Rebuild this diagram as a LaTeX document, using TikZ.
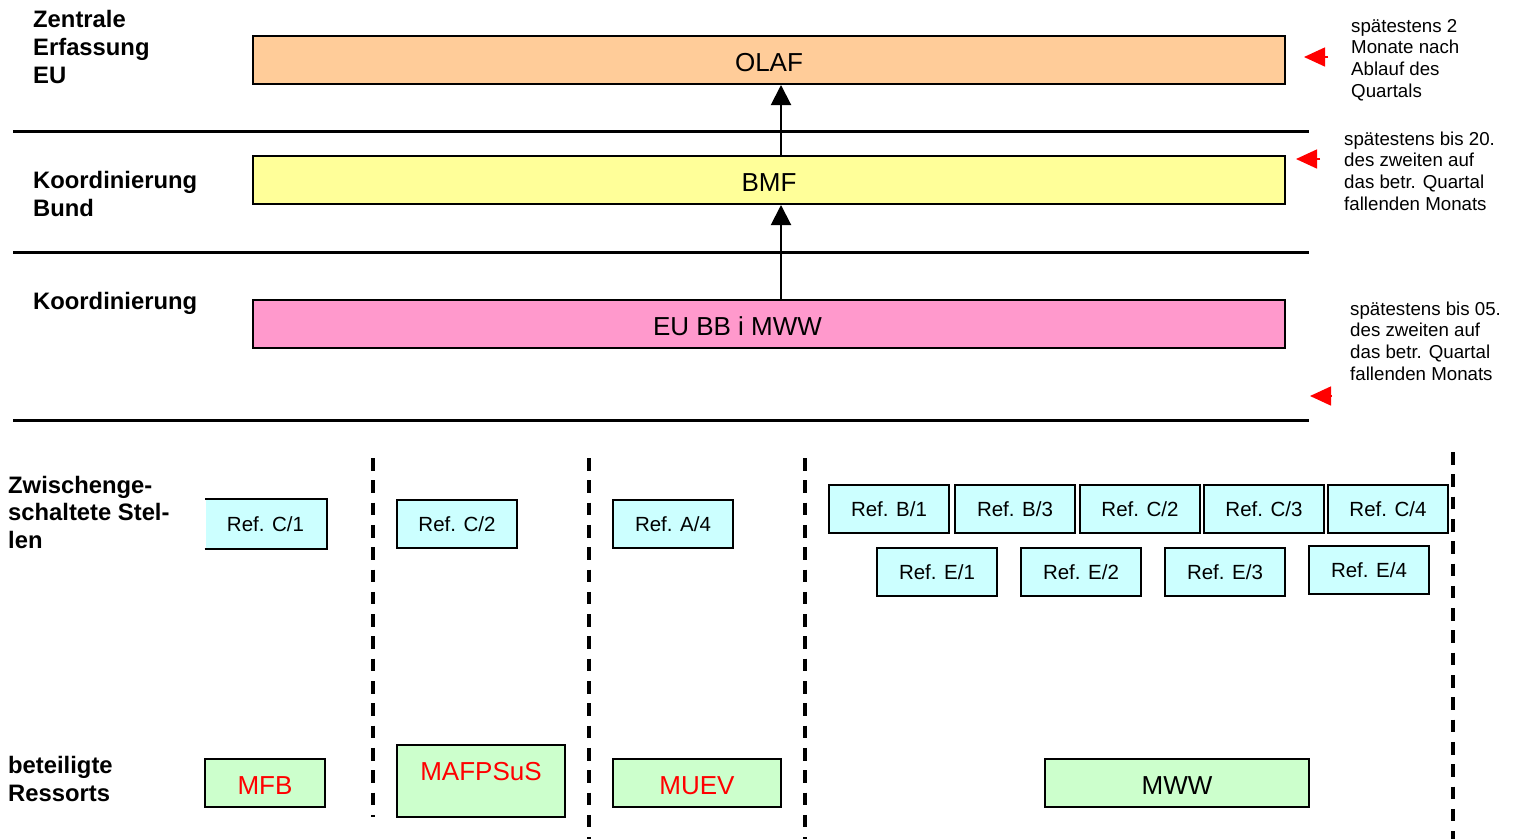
\documentclass[tikz,border=0pt]{standalone}
\usepackage{fontspec}
\setmainfont{Liberation Sans}
\usetikzlibrary{arrows.meta}
\definecolor{peach}{RGB}{255,204,153}
\definecolor{lyellow}{RGB}{255,255,153}
\definecolor{lpink}{RGB}{255,153,204}
\definecolor{lcyan}{RGB}{204,255,255}
\definecolor{lgreen}{RGB}{204,255,204}
\definecolor{pred}{RGB}{255,0,0}
\tikzset{
  bigbox/.style={draw=black, line width=2pt, minimum width=1032pt, minimum height=48pt, inner sep=0pt,
    font=\fontsize{26}{30}\selectfont, text height=22.6pt, text depth=0pt},
  refbox/.style={fill=lcyan, draw=black, line width=2pt, minimum width=120pt, minimum height=48pt, inner sep=0pt,
    font=\fontsize{20.5}{24}\selectfont, text height=14.7pt, text depth=0pt},
  resbox/.style={fill=lgreen, draw=black, line width=2pt, minimum height=48pt, inner sep=0pt,
    font=\fontsize{26}{30}\selectfont, text height=22.6pt, text depth=0pt},
  lbl/.style={font=\bfseries\fontsize{23.8}{28}\selectfont, align=left, anchor=base west, inner sep=0pt},
  note/.style={font=\fontsize{18.7}{21.7}\selectfont, align=left, anchor=base west, inner sep=0pt},
  hline/.style={line width=3pt},
  vdash/.style={line width=3.3pt, dash pattern=on 12.6pt off 9.7pt},
  uparr/.style={line width=2pt, -{Triangle[width=20pt,length=20pt]}},
  redarr/.style={draw=pred, line width=1.5pt, -{Triangle[width=19pt,length=21pt]}, color=pred},
}
\begin{document}
\begin{tikzpicture}[x=1pt,y=-1pt]
\useasboundingbox (0,0) rectangle (1516,839);

% left labels (anchored at the baseline of their last line)
\node[lbl] (l1) at (33,83.5) {Zentrale\\Erfassung\\EU};
\node[lbl] (l2) at (33,216.5) {Koordinierung\\Bund};
\node[lbl] (l3) at (33,309) {Koordinierung};
\node[lbl, font=\bfseries\fontsize{23.8}{27.5}\selectfont] (l4) at (8,548) {Zwischenge-\\schaltete Stel-\\len};
\node[lbl] (l5) at (8,801) {beteiligte\\Ressorts};

% horizontal separators
\coordinate (h1a) at (13,131); \coordinate (h1b) at (1309,131);
\coordinate (h2a) at (13,252); \coordinate (h2b) at (1309,252);
\coordinate (h3a) at (13,420); \coordinate (h3b) at (1309,420);
\draw[hline] (h1a) -- (h1b);
\draw[hline] (h2a) -- (h2b);
\draw[hline] (h3a) -- (h3b);

% main boxes
\node[bigbox, fill=peach] (olaf) at (769,60) {OLAF};
\node[bigbox, fill=lyellow] (bmf) at (769,180) {BMF};
\node[bigbox, fill=lpink] (eubb) at (769,324) {EU BB i MWW\hspace*{63pt}};

\draw[uparr] ([xshift=12pt]bmf.north) -- ([xshift=12pt]olaf.south);
\draw[uparr] ([xshift=12pt]eubb.north) -- ([xshift=12pt]bmf.south);

% red markers
\coordinate (r1s) at (1328,57); \coordinate (r1t) at (1304,57);
\coordinate (r2s) at (1320,159); \coordinate (r2t) at (1296,159);
\coordinate (r3s) at (1331,396); \coordinate (r3t) at (1310,396);
\draw[redarr] (r1s) -- (r1t);
\draw[redarr] (r2s) -- (r2t);
\draw[redarr] (r3s) -- (r3t);

% notes (anchored at the baseline of their last line)
\node[note] (n1) at (1351,97.1) {spätestens 2\\Monate nach\\Ablauf des\\Quartals};
\node[note] (n2) at (1344,210.1) {spätestens bis 20.\\des zweiten auf\\das betr. Quartal\\fallenden Monats};
\node[note] (n3) at (1350,380.1) {spätestens bis 05.\\des zweiten auf\\das betr. Quartal\\fallenden Monats};

% dashed column separators
\coordinate (d1a) at (373,458); \coordinate (d1b) at (373,817);
\coordinate (d2a) at (589,458); \coordinate (d2b) at (589,839);
\coordinate (d3a) at (805,458); \coordinate (d3b) at (805,839);
\coordinate (d4a) at (1453,452); \coordinate (d4b) at (1453,839);
\draw[vdash] (d1a) -- (d1b);
\draw[vdash] (d2a) -- (d2b);
\draw[vdash] (d3a) -- (d3b);
\draw[vdash] (d4a) -- (d4b);

% Ref boxes
\node[refbox, draw=none] (rc1) at (265.5,524) {Ref. C/1};
\draw[line width=2pt] (rc1.south west) -- (rc1.south east) -- (rc1.north east) -- (rc1.north west);
\node[refbox] (rc2a) at (457,524) {Ref. C/2};
\node[refbox] (ra4) at (673,524) {Ref. A/4};
\node[refbox] (rb1) at (889,509) {Ref. B/1};
\node[refbox] (rb3) at (1015,509) {Ref. B/3};
\node[refbox] (rc2b) at (1140,509) {Ref. C/2};
\node[refbox] (rc3) at (1264,509) {Ref. C/3};
\node[refbox] (rc4) at (1388,509) {Ref. C/4};
\node[refbox] (re1) at (937,572) {Ref. E/1};
\node[refbox] (re2) at (1081,572) {Ref. E/2};
\node[refbox] (re3) at (1225,572) {Ref. E/3};
\node[refbox] (re4) at (1369,570) {Ref. E/4};

% Ressorts
\node[resbox, minimum width=120pt, text=pred] (mfb) at (265,783) {MFB};
\node[resbox, minimum width=168pt, minimum height=72pt, text height=35pt, text depth=37pt, text=pred] (mafp) at (481,781) {MAFPSuS};
\node[resbox, minimum width=168pt, text=pred] (muev) at (697,783) {MUEV};
\node[resbox, minimum width=264pt] (mww) at (1177,783) {MWW};
\end{tikzpicture}
\end{document}
